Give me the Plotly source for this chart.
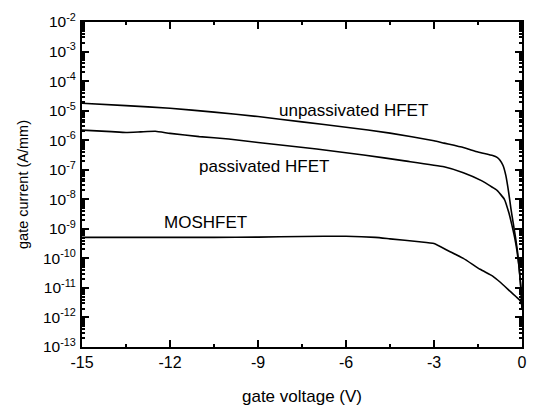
import numpy as np
import plotly.graph_objects as go

# gate voltage (V) and log10 of gate current (A/mm)
unpass_v = [-15, -13.5, -12, -10.5, -9, -7.5, -6, -4.5, -3, -2.66, -2, -1.5, -1.0, -0.85, -0.75, -0.65, -0.55, -0.45, -0.38, -0.3, -0.22, -0.15, -0.08, -0.03, 0]
unpass_log = [-4.75, -4.83, -4.92, -5.05, -5.2, -5.38, -5.56, -5.76, -6.02, -6.1, -6.25, -6.4, -6.52, -6.58, -6.68, -6.85, -7.2, -7.8, -8.3, -8.8, -9.3, -9.8, -10.5, -11.1, -11.7]

pass_v = [-15, -14, -13.5, -13, -12.5, -12, -11, -10, -9, -7, -5.4, -4, -2.66, -2, -1.4, -1.0, -0.85, -0.6, -0.45, -0.35, -0.25, -0.17, -0.1, -0.04, 0]
pass_log = [-5.66, -5.71, -5.74, -5.72, -5.70, -5.77, -5.88, -5.96, -6.08, -6.3, -6.5, -6.7, -6.9, -7.1, -7.36, -7.6, -7.7, -8.0, -8.45, -8.85, -9.3, -9.75, -10.3, -11.0, -11.7]

mos_v = [-15, -13.5, -12, -10.5, -9, -7.5, -6, -5, -4.5, -3.5, -3, -2.5, -2, -1.43, -1, -0.75, -0.4, -0.2, -0.07, 0]
mos_log = [-9.29, -9.29, -9.29, -9.29, -9.28, -9.26, -9.25, -9.29, -9.34, -9.44, -9.5, -9.75, -10.0, -10.37, -10.6, -10.8, -11.12, -11.3, -11.42, -11.6]

y_exponents = list(range(-13, -1))
y_ticktext = ["10<sup>%d</sup>" % e for e in y_exponents]
x_ticks = [-15, -12, -9, -6, -3, 0]

FONT = "Liberation Sans, Arial"

fig = go.Figure()
line = dict(color="black", width=1.6)
for xs, ls in [(unpass_v, unpass_log), (pass_v, pass_log), (mos_v, mos_log)]:
    fig.add_trace(go.Scatter(x=xs, y=10 ** np.array(ls), mode="lines",
                             line=dict(line, shape="spline", smoothing=0.4),
                             showlegend=False, hoverinfo="skip"))

labels = [("unpassivated HFET", -5.76, -4.98), ("passivated HFET", -8.78, -6.88), ("MOSHFET", -10.8, -8.78)]
for txt, xv, ly in labels:
    fig.add_annotation(x=xv, y=ly, xref="x", yref="y", text=txt, showarrow=False,
                       font=dict(family=FONT, size=17, color="black"))

minor_y = [k * 10.0 ** e for e in range(-13, -2) for k in range(2, 10)]

fig.update_layout(
    width=534, height=407,
    margin=dict(l=82, r=12, t=22, b=60),
    paper_bgcolor="white", plot_bgcolor="white",
    font=dict(family=FONT, size=14, color="black"),
    xaxis=dict(range=[-15, 0], tickvals=x_ticks, ticktext=[str(v) for v in x_ticks],
               ticks="inside", ticklen=7, tickwidth=1.5, tickcolor="black",
               showline=True, linewidth=2, linecolor="black", mirror="allticks",
               showgrid=False, zeroline=False, automargin=False,
               minor=dict(tickvals=[-13.5, -10.5, -7.5, -4.5, -1.5], ticks="inside", ticklen=3, tickcolor="black", showgrid=False),
               title=dict(text="gate voltage (V)", standoff=20, font=dict(size=17)),
               tickfont=dict(size=16)),
    yaxis=dict(type="log", range=[-13, -2],
               tickvals=[10.0 ** e for e in y_exponents], ticktext=y_ticktext,
               ticks="inside", ticklen=7, tickwidth=1.5, tickcolor="black",
               showline=True, linewidth=2, linecolor="black", mirror="allticks",
               showgrid=False, zeroline=False, automargin=False,
               minor=dict(tickvals=minor_y, ticks="inside", ticklen=3, tickcolor="black", showgrid=False),
               title=dict(text="gate current (A/mm)", standoff=11, font=dict(size=14.5)),
               tickfont=dict(size=15.5), ticklabelstandoff=1),
)

fig.write_html("out.html")
